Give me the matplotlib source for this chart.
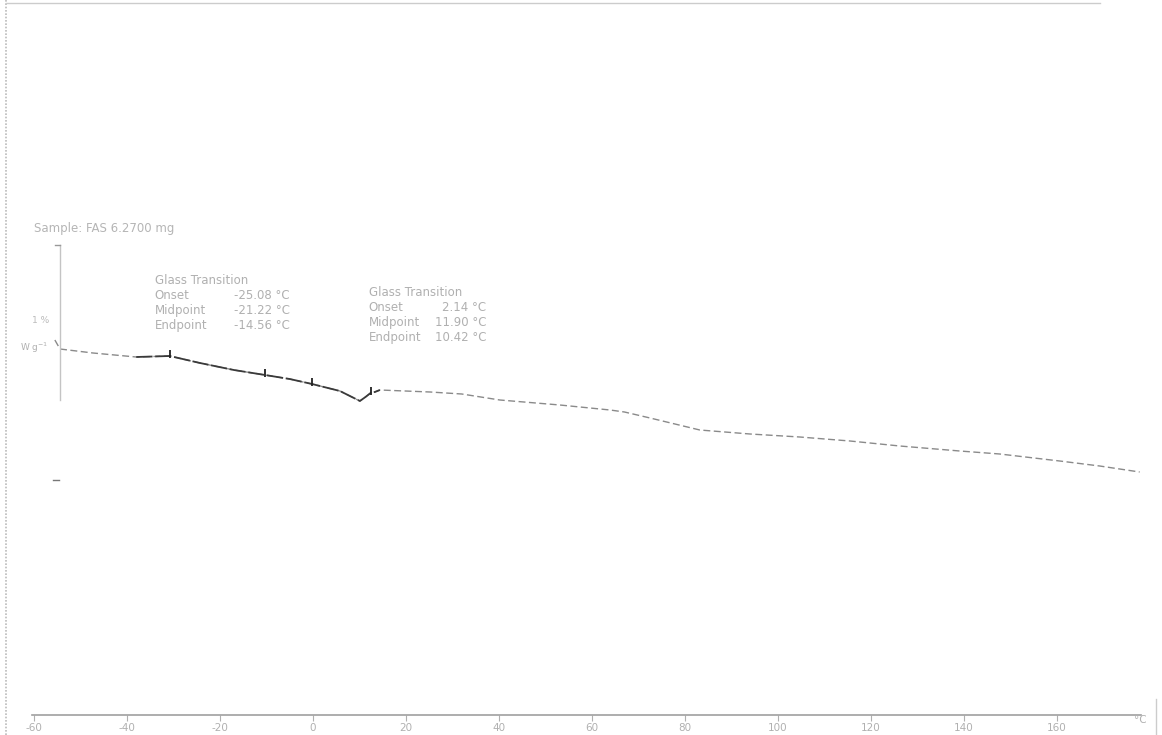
import numpy as np
import matplotlib
matplotlib.use("Agg")
import matplotlib.pyplot as plt
from matplotlib.lines import Line2D

# DSC heating scan (temperature in degC, heat flow in W/g)
temp = [-55.5, -54.4, -47.3, -38.0, -30.8, -24.3, -17.0, -10.3, -5.0, -0.2,
        5.8, 10.1, 11.3, 12.4, 13.3, 14.4, 25.2, 32.0, 40.2, 53.1, 63.9, 67.0,
        72.5, 83.2, 94.0, 104.7, 115.5, 126.2, 139.1, 147.7, 160.6, 169.2, 177.8]
heat_flow = [-0.15, -0.195, -0.215, -0.235, -0.23, -0.265, -0.30, -0.325, -0.345, -0.37,
             -0.405, -0.455, -0.435, -0.415, -0.41, -0.40, -0.41, -0.42, -0.45, -0.475, -0.50, -0.51,
             -0.54, -0.60, -0.62, -0.635, -0.655, -0.68, -0.705, -0.72, -0.755, -0.78, -0.81]

# onset / midpoint / endpoint marks picked on the curve
mark_temp = [-30.8, -10.3, -0.2, 12.4]
mark_hf = [-0.23, -0.325, -0.37, -0.415]

tg1 = [("Glass Transition", ""), ("Onset", "-25.08 °C"),
       ("Midpoint", "-21.22 °C"), ("Endpoint", "-14.56 °C")]
tg2 = [("Glass Transition", ""), ("Onset", "2.14 °C"),
       ("Midpoint", "11.90 °C"), ("Endpoint", "10.42 °C")]

xticks = [-60, -40, -20, 0, 20, 40, 60, 80, 100, 120, 140, 160]

fig = plt.figure(figsize=(11.62, 7.35), dpi=100)
ax = fig.add_axes([0, 20 / 735, 1, 715 / 735])
ax.set_xlim(-67.3, 182.6)
ax.set_ylim(-2.025, 1.55)

ax.plot(temp, heat_flow, color="#8a8a8a", lw=1.0, linestyle=(0, (5, 2.5)))
ax.plot(temp[3:16], heat_flow[3:16], color="#3a3a3a", lw=1.3, linestyle=(0, (9, 1.5)))
ax.plot(mark_temp, [h + 0.012 for h in mark_hf], linestyle="none", marker="|",
        markersize=6, color="#222222", mew=1.3)

# y scale bar
ax.plot([-54.4, -54.4], [0.325, -0.45], color="#c4c4c4", lw=1.0)
ax.plot([-55.5, -54.4], [0.325, 0.325], color="#999999", lw=1.0)
ax.plot([-56.0, -54.6], [-0.85, -0.85], color="#777777", lw=1.0)
ax.text(-63.0, -0.19, "W g$^{-1}$", fontsize=6.5, color="#b0b0b0", va="center")
ax.text(-60.5, -0.05, "1 %", fontsize=6.5, color="#bbbbbb", va="center")

ax.text(-60.0, 0.41, "Sample: FAS 6.2700 mg", fontsize=8.5, color="#b5b5b5", va="center")

def tg_block(x_lab, x_val, y_top, rows):
    for i, (lab, val) in enumerate(rows):
        y = y_top - i * 0.075
        ax.text(x_lab, y, lab, fontsize=8.5, color="#b0b0b0", va="center")
        if val:
            ax.text(x_val, y, val, fontsize=8.5, color="#b0b0b0", va="center", ha="right")

tg_block(-34.0, -5.0, 0.15, tg1)
tg_block(12.0, 37.3, 0.09, tg2)

for s in ["top", "left", "right"]:
    ax.spines[s].set_visible(False)
ax.spines["bottom"].set_color("#a0a0a0")
ax.spines["bottom"].set_linewidth(1.2)
ax.spines["bottom"].set_bounds(-60.5, 178)
ax.set_yticks([])
ax.set_xticks(xticks)
ax.set_xticklabels([str(t) for t in xticks])
ax.tick_params(axis="x", colors="#b0b0b0", labelsize=7.5, length=4, pad=2)
ax.text(178, -2.025, "°C", fontsize=7.5, color="#b0b0b0", ha="center", va="top",
        transform=ax.transData, clip_on=False)

# page frame of the printout
fig.add_artist(Line2D([6 / 1162, 6 / 1162], [0, 1], color="#bbbbbb", lw=1.2, linestyle=(0, (1, 1))))
fig.add_artist(Line2D([6 / 1162, 1100 / 1162], [732 / 735, 732 / 735], color="#cccccc", lw=1.0))
fig.add_artist(Line2D([1156 / 1162, 1156 / 1162], [0, 36 / 735], color="#cccccc", lw=1.0))

fig.savefig("out.png", dpi=100)
